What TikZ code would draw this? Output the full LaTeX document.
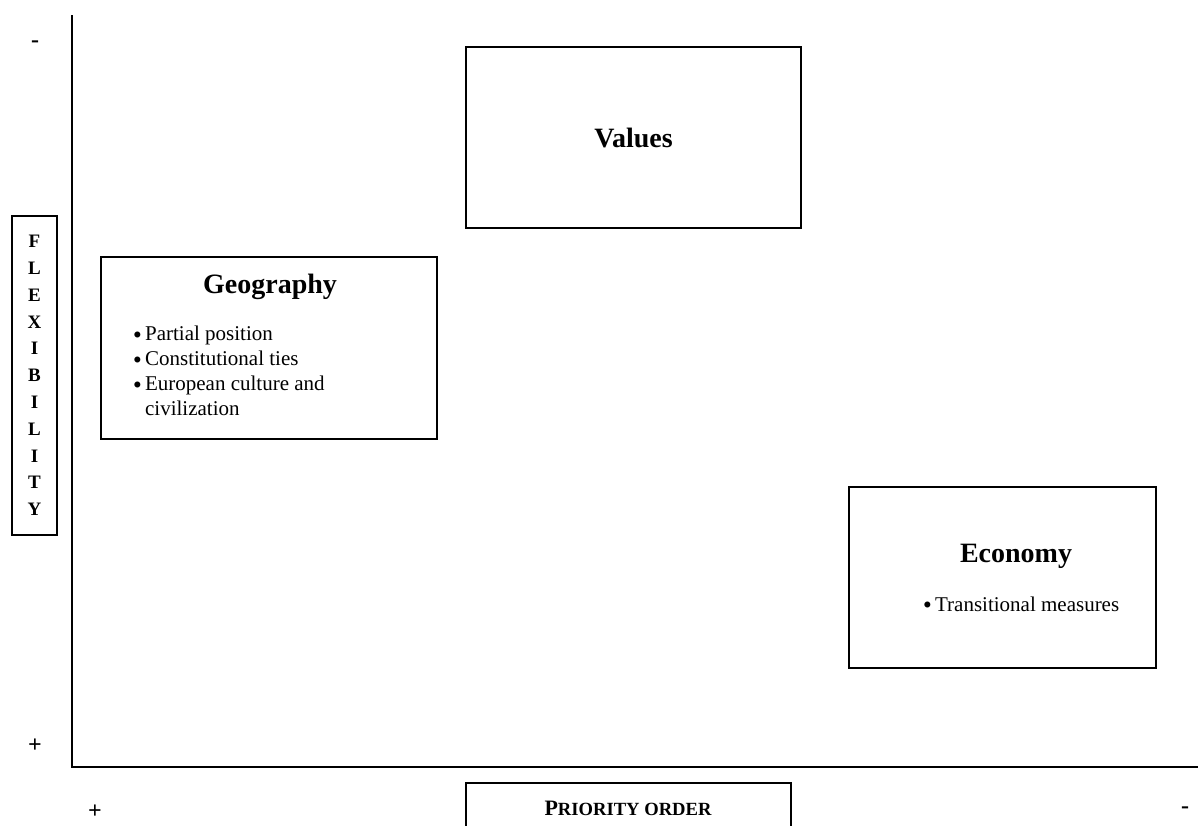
\documentclass[tikz,border=0pt]{standalone}
\usepackage{fontspec}
\setmainfont{Liberation Serif}
\usetikzlibrary{positioning}

\newcommand{\itemdot}{\raisebox{0.3ex}{$\scriptstyle\bullet$}}

\begin{document}
\begin{tikzpicture}[x=0.5pt, y=-0.5pt, auto,
    box/.style={draw, line width=0.55pt, inner sep=0pt},
    heading/.style={font=\fontsize{14}{16}\selectfont\bfseries},
    sign/.style={font=\fontsize{12}{12}\selectfont\bfseries},
    items/.style={font=\fontsize{10.5}{12.5}\selectfont, inner sep=0pt, align=left}]
    \useasboundingbox (0,0) rectangle (1198,825);
    \clip (0,0) rectangle (1198,825);

    % axes
    \coordinate (y_top) at (72, 15);
    \coordinate (origin) at (72, 767);
    \coordinate (x_end) at (1198, 767);
    \draw[line width=1pt] (y_top) -- (origin) -- (x_end);

    \node[sign] at (35, 44) (y_minus) {-};
    \node[sign] at (35, 746) (y_plus) {+};
    \node[sign] at (95, 812) (x_plus) {+};
    \node[sign] at (1185, 810) (x_minus) {-};

    \node[box, minimum width=22.5pt, minimum height=159.5pt,
        font=\fontsize{9.5}{13.4}\selectfont\bfseries, align=center]
        at (34.5, 375.5) (flexibility) {F\\L\\E\\X\\I\\B\\I\\L\\I\\T\\Y};

    \node[box, heading, minimum width=167.5pt, minimum height=90.5pt]
        at (633.5, 137.5) (values) {Values};

    % geography
    \node[box, minimum width=168pt, minimum height=91pt] at (269, 348) (geography) {};
    \node[heading] at (270, 287) (geography_title) {Geography};
    \node[items, anchor=north west] at (133, 323) (geography_items) {%
        \begin{tabular}{@{}l@{\,}l@{}}
        \itemdot & Partial position\\
        \itemdot & Constitutional ties\\
        \itemdot & European culture and\\
                 & civilization
        \end{tabular}};

    % economy
    \node[box, minimum width=153.5pt, minimum height=90.5pt] at (1002.5, 577.5) (economy) {};
    \node[heading] at (1016, 556) (economy_title) {Economy};
    \node[items, anchor=west] at (923, 604) (economy_items) {\itemdot\,Transitional measures};

    % priority order
    \node[box, minimum width=162.5pt, minimum height=33.5pt] at (628.5, 816.5) (priority) {};
    \node at (628, 808) (priority_text)
        {\bfseries\fontsize{11}{12}\selectfont P\fontsize{9.3}{12}\selectfont RIORITY ORDER};
\end{tikzpicture}
\end{document}
